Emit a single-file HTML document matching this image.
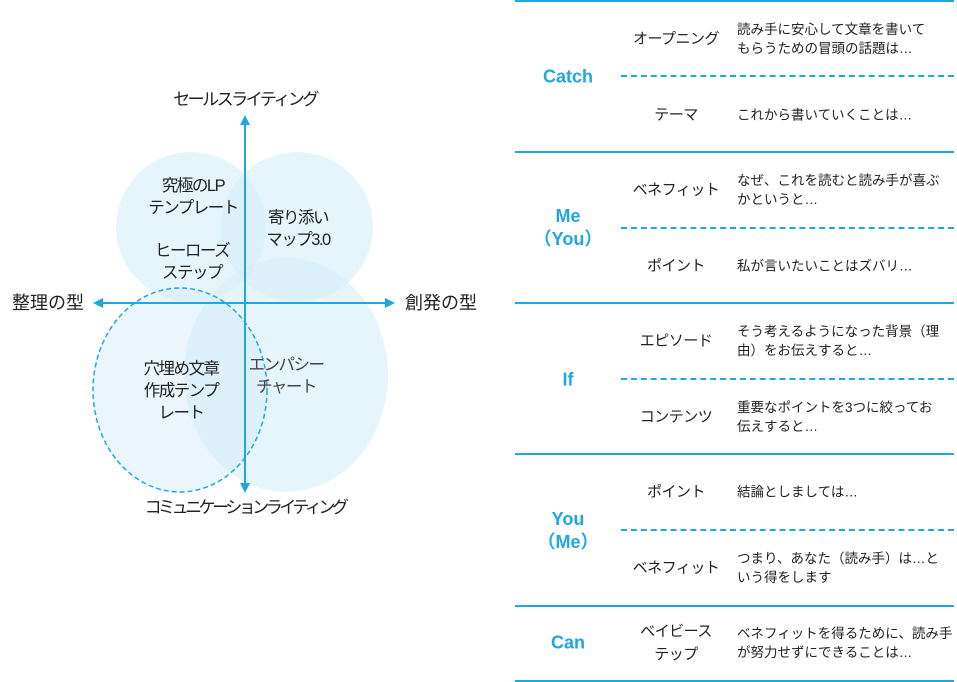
<!DOCTYPE html>
<html><head><meta charset="utf-8"><style>
body{margin:0;width:957px;height:682px;background:#fff;position:relative;font-family:"Liberation Sans","Noto Sans CJK JP",sans-serif;color:#222;overflow:hidden}
.t{position:absolute;white-space:nowrap}
.c{text-align:center;transform:translateX(-50%)}
.l{font-size:17px;line-height:22px}
.kt{letter-spacing:-2.5px}
.in{font-size:16.5px;letter-spacing:-1.5px}
.hl{position:absolute;left:515px;width:439px;height:2px;background:#1fa8e0}
.dl{position:absolute;left:621px;width:333px;border-top:2px dashed #1fa8e0}
.k{position:absolute;left:568px;transform:translate(-50%,-50%);color:#1fa8e0;font-weight:bold;font-size:18px;text-align:center;line-height:23px}
.m{position:absolute;left:676px;transform:translate(-50%,-50%);font-size:15px;text-align:center;line-height:23px;white-space:nowrap;letter-spacing:-0.5px}
.r{position:absolute;left:737px;transform:translateY(-50%);font-size:13.5px;line-height:19px;white-space:nowrap}
</style></head><body>
<svg width="957" height="682" style="position:absolute;left:0;top:0">
<ellipse cx="191" cy="227" rx="75" ry="75" fill="#d6eef9" fill-opacity="0.6"/>
<ellipse cx="297" cy="227" rx="76" ry="75" fill="#d6eef9" fill-opacity="0.6"/>
<ellipse cx="286" cy="375" rx="102" ry="117" fill="#d6eef9" fill-opacity="0.6"/>
<ellipse cx="180" cy="390" rx="87" ry="102" fill="#d6eef9" fill-opacity="0.5" stroke="#1fa8e0" stroke-width="1.5" stroke-dasharray="5,3"/>
<line x1="245" y1="122" x2="245" y2="486" stroke="#1fa8e0" stroke-width="2"/>
<line x1="100" y1="303" x2="388" y2="303" stroke="#1fa8e0" stroke-width="2"/>
<polygon points="245,115 240,125 250,125" fill="#1fa8e0"/>
<polygon points="245,493 240,483 250,483" fill="#1fa8e0"/>
<polygon points="93,303 103,298 103,308" fill="#1fa8e0"/>
<polygon points="395,303 385,298 385,308" fill="#1fa8e0"/>
</svg>
<div class="t c l kt" style="left:245px;top:89px">セールスライティング</div>
<div class="t l" style="left:12px;top:292px;font-size:18px">整理の型</div>
<div class="t l" style="left:405px;top:292px;font-size:18px">創発の型</div>
<div class="t c l" style="left:245px;top:497px;letter-spacing:-3.5px">コミュニケーションライティング</div>
<div class="t c l in" style="left:193px;top:175px">究極のLP<br>テンプレート</div>
<div class="t c l in" style="left:298px;top:207px">寄り添い<br>マップ3.0</div>
<div class="t c l in" style="left:192px;top:240px">ヒーローズ<br>ステップ</div>
<div class="t c l in" style="left:181px;top:358px">穴埋め文章<br>作成テンプ<br>レート</div>
<div class="t c l in" style="left:286px;top:354px;color:#444">エンパシー<br>チャート</div>

<div class="hl" style="top:0px"></div>
<div class="hl" style="top:151px"></div>
<div class="hl" style="top:302px"></div>
<div class="hl" style="top:453px"></div>
<div class="hl" style="top:605px"></div>
<div class="hl" style="top:680px"></div>
<div class="dl" style="top:75px"></div>
<div class="dl" style="top:227px"></div>
<div class="dl" style="top:378px"></div>
<div class="dl" style="top:529px"></div>

<div class="k" style="top:77px">Catch</div>
<div class="k" style="top:228px">Me<br>（You）</div>
<div class="k" style="top:380px">If</div>
<div class="k" style="top:531px">You<br>（Me）</div>
<div class="k" style="top:643px">Can</div>

<div class="m" style="top:39px">オープニング</div>
<div class="m" style="top:115px">テーマ</div>
<div class="m" style="top:190px">ベネフィット</div>
<div class="m" style="top:266px">ポイント</div>
<div class="m" style="top:341px">エピソード</div>
<div class="m" style="top:417px">コンテンツ</div>
<div class="m" style="top:492px">ポイント</div>
<div class="m" style="top:568px">ベネフィット</div>
<div class="m" style="top:643px">ベイビース<br>テップ</div>

<div class="r" style="top:39px">読み手に安心して文章を書いて<br>もらうための冒頭の話題は…</div>
<div class="r" style="top:115px">これから書いていくことは…</div>
<div class="r" style="top:190px">なぜ、これを読むと読み手が喜ぶ<br>かというと…</div>
<div class="r" style="top:266px">私が言いたいことはズバリ…</div>
<div class="r" style="top:341px">そう考えるようになった背景（理<br>由）をお伝えすると…</div>
<div class="r" style="top:417px">重要なポイントを3つに絞ってお<br>伝えすると…</div>
<div class="r" style="top:492px">結論としましては…</div>
<div class="r" style="top:568px">つまり、あなた（読み手）は…と<br>いう得をします</div>
<div class="r" style="top:643px">ベネフィットを得るために、読み手<br>が努力せずにできることは…</div>
</body></html>
